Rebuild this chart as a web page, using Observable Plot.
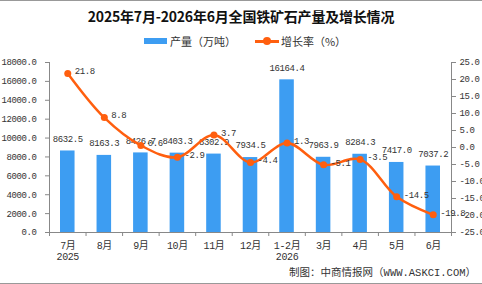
<!DOCTYPE html>
<html><head><meta charset="utf-8">
<script src="https://cdn.jsdelivr.net/npm/d3@7"></script>
<script src="https://cdn.jsdelivr.net/npm/@observablehq/plot@0.6"></script>
<style>
body{margin:0;background:#fff;}
#wrap{width:482px;height:284px;box-sizing:border-box;border-top:1px solid #999;border-bottom:1px solid #999;font-family:"Noto Sans CJK SC",sans-serif;overflow:hidden;}
#title{height:29px;line-height:30px;text-align:center;font-weight:bold;font-size:14px;color:#111;letter-spacing:-0.2px;}
#legend{height:20px;display:flex;justify-content:center;align-items:center;font-size:11px;color:#333;padding-top:2px;padding-left:8px;box-sizing:border-box;}
#legend .sw{display:inline-block;width:23px;height:6px;background:#3d9df2;margin-right:3px;}
#legend .ln{display:inline-block;position:relative;width:24px;height:3px;background:#ff5f0f;margin-left:19px;margin-right:2px;}
#legend .ln i{position:absolute;left:8px;top:-2.5px;width:8px;height:8px;border-radius:50%;background:#ff5f0f;}
#chart{height:216px;}
#footer{height:16px;line-height:14px;text-align:right;padding-right:6px;font-size:10.5px;color:#333;font-family:'Liberation Mono','Noto Sans CJK SC',monospace;}
</style></head>
<body><div id="wrap">
<div id="title">2025年7月-2026年6月全国铁矿石产量及增长情况</div>
<div id="legend"><span class="sw"></span><span>产量（万吨）</span><span class="ln"><i></i></span><span>增长率（%）</span></div>
<div id="chart"></div>
<div id="footer">制图：中商情报网（WWW.ASKCI.COM）</div>
</div>
<script>
const months = ["7月\n2025","8月","9月","10月","11月","12月","1-2月\n2026","3月","4月","5月","6月"];
const production = [8632.5, 8163.3, 8426.7, 8403.3, 8302.9, 7934.5, 16164.4, 7963.9, 8284.3, 7417.0, 7037.2];
const growth = [21.8, 8.8, 0.6, -2.9, 3.7, -4.4, 1.3, -5.1, -3.5, -14.5, -19.8];
const leftTicks = [0, 2000, 4000, 6000, 8000, 10000, 12000, 14000, 16000, 18000];
const rightTicks = [-25, -20, -15, -10, -5, 0, 5, 10, 15, 20, 25];

const toY = r => (r + 25) / 50 * 18000;
const data = months.map((m, i) => ({i, m, prod: production[i], rate: growth[i], rateY: toY(growth[i])}));
const font = "'Liberation Mono','Noto Sans CJK SC',monospace";
const orange = "#ff5f0f";

const chart = Plot.plot({
  width: 482, height: 216,
  marginLeft: 49, marginRight: 31, marginTop: 12, marginBottom: 34,
  x: {type: "linear", domain: [-0.5, 10.5]},
  y: {domain: [0, 18000]},
  style: {fontFamily: font, fontSize: "9px", color: "#333", background: "transparent", letterSpacing: "-0.4px"},
  marks: [
    Plot.rectY(data, {x1: d => d.i - 0.5, x2: d => d.i + 0.5, y: "prod", insetLeft: 11, insetRight: 11, fill: "#3d9df2"}),
    Plot.ruleX([-0.5, 10.5], {stroke: "#888"}),
    Plot.ruleY([0], {stroke: "#888"}),
    Plot.axisY({ticks: leftTicks, tickFormat: d => d.toFixed(1), tickSize: 4, tickPadding: 9, label: null, stroke: "#888", fill: "#333"}),
    Plot.axisY({anchor: "right", ticks: rightTicks.map(toY), tickFormat: v => (v / 360 - 25).toFixed(1), tickSize: 4, tickPadding: 4, label: null, stroke: "#888", fill: "#333"}),
    Plot.axisX({ticks: d3.range(-0.5, 11, 1), tickFormat: () => "", tickSize: 4, label: null, stroke: "#888"}),
    Plot.axisX({ticks: d3.range(0, 11), tickFormat: i => months[i], tickSize: 0, tickPadding: 9, label: null, fill: "#333", fontSize: 10, lineHeight: 1.1}),
    Plot.text(data, {x: "i", y: "prod", text: d => d.prod.toFixed(1), dy: -12, fill: "#333"}),
    Plot.line(data, {x: "i", y: "rateY", curve: "catmull-rom", stroke: orange, strokeWidth: 2.5}),
    Plot.dot(data, {x: "i", y: "rateY", r: 3.5, fill: orange}),
    Plot.text(data, {x: "i", y: "rateY", text: d => d.rate.toFixed(1), dx: 7, dy: -2, textAnchor: "start", fill: "#333"})
  ]
});
document.getElementById("chart").appendChild(chart);
</script>
</body></html>
